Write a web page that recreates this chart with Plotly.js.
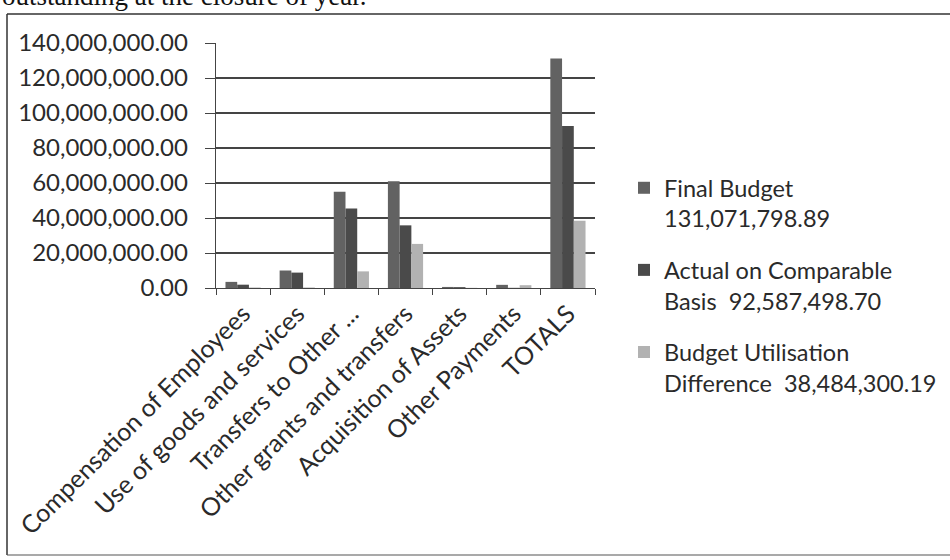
<!DOCTYPE html>
<html>
<head>
<meta charset="utf-8">
<script src="https://cdn.plot.ly/plotly-3.0.1.min.js"></script>
<style>html,body{margin:0;padding:0;background:#fff;}#chart{width:950px;height:560px;}</style>
</head>
<body>
<div id="chart"></div>
<script>
// ---- data ----
var categories = ["Compensation of Employees", "Use of goods and services", "Transfers to Other ...", "Other grants and transfers", "Acquisition of Assets", "Other Payments", "TOTALS"];
var finalBudget = [3500000, 10000000, 55000000, 61000000, 600000, 1800000, 131071798.89];
var actualComparable = [1900000, 8800000, 45500000, 35800000, 500000, 100000, 92587498.70];
var utilisationDiff = [300000, 300000, 9500000, 25200000, 100000, 1600000, 38484300.19];
var seriesNames = ["Final Budget<br>131,071,798.89", "Actual on Comparable<br>Basis  92,587,498.70", "Budget Utilisation<br>Difference  38,484,300.19"];
var yTickVals = [0, 20000000, 40000000, 60000000, 80000000, 100000000, 120000000, 140000000];
var headerText = "outstanding at the closure of year.";

// ---- geometry helpers (pixel -> paper) ----
var W = 950, H = 560, L = 216, R = 595, T = 43, B = 288;
function px(x) { return (x - L) / (R - L); }
function py(y) { return (B - y) / (B - T); }

var FONT = "Lato, 'Open Sans', sans-serif";
var colors = ["#626262", "#4a4a4a", "#b2b2b2"];
var seriesData = [finalBudget, actualComparable, utilisationDiff];

var traces = seriesData.map(function (vals, i) {
  return {
    type: "bar",
    name: seriesNames[i],
    x: categories,
    y: vals,
    legendgroup: "g" + i,
    marker: { color: colors[i], line: { width: 0 } },
    hoverinfo: "x+y"
  };
});

var layout = {
  width: W, height: H,
  margin: { l: L, r: W - R, t: T, b: H - B, pad: 0, autoexpand: false },
  paper_bgcolor: "#ffffff",
  plot_bgcolor: "#ffffff",
  font: { family: FONT, size: 24, color: "#2a2a2a" },
  barmode: "group",
  bargap: 0.35,
  bargroupgap: 0,
  showlegend: true,
  legend: {
    x: px(624), xanchor: "left",
    y: py(166), yanchor: "top",
    valign: "top",
    tracegroupgap: 18,
    font: { family: FONT, size: 23.5, color: "#2a2a2a" },
    bgcolor: "rgba(0,0,0,0)"
  },
  xaxis: {
    type: "category",
    tickangle: -45,
    tickson: "boundaries",
    ticks: "outside",
    ticklen: 6,
    tickcolor: "#444",
    showline: true,
    linecolor: "#444",
    linewidth: 1.3,
    showgrid: false,
    automargin: false,
    tickfont: { family: FONT, size: 25, color: "#2a2a2a" },
    fixedrange: true
  },
  yaxis: {
    range: [0, 140000000],
    tickvals: yTickVals,
    tickformat: ",.2f",
    ticks: "outside",
    ticklen: 10,
    tickcolor: "#444",
    showline: true,
    linecolor: "#444",
    linewidth: 1.3,
    showgrid: true,
    gridcolor: "#444",
    gridwidth: 1.3,
    zeroline: false,
    automargin: false,
    ticklabelstandoff: 12,
    tickfont: { family: FONT, size: 24, color: "#2a2a2a" },
    fixedrange: true
  },
  shapes: [
    { type: "line", xref: "paper", yref: "paper", x0: px(7), x1: px(952), y0: py(14), y1: py(14), line: { color: "#333", width: 1.5 } },
    { type: "line", xref: "paper", yref: "paper", x0: px(7), x1: px(7), y0: py(14), y1: py(555), line: { color: "#333", width: 1.5 } },
    { type: "line", xref: "paper", yref: "paper", x0: px(7), x1: px(952), y0: py(555), y1: py(555), line: { color: "#555", width: 1.2 } }
  ],
  annotations: [
    { xref: "paper", yref: "paper", x: px(0), y: py(13), xanchor: "left", yanchor: "bottom",
      text: headerText, showarrow: false,
      font: { family: "'Liberation Serif', 'DejaVu Serif', serif", size: 27, color: "#111" } }
  ]
};

Plotly.newPlot("chart", traces, layout, { displayModeBar: false, staticPlot: true });
</script>
</body>
</html>
